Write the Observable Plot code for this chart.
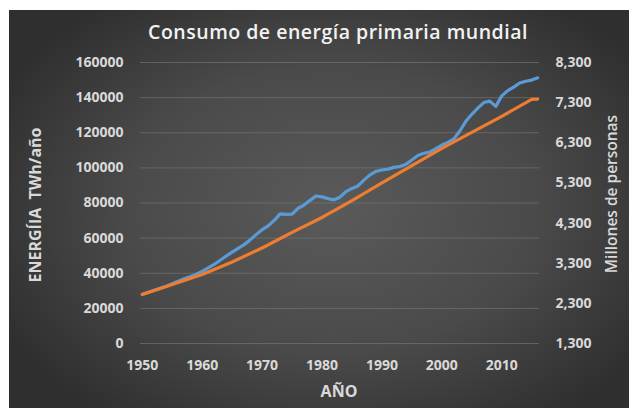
<!DOCTYPE html>
<html><head><meta charset="utf-8">
<script src="https://cdn.jsdelivr.net/npm/d3@7"></script>
<script src="https://cdn.jsdelivr.net/npm/@observablehq/plot@0.6"></script>
<style>
body{margin:0;background:#fff;}
#wrap{position:relative;width:629px;height:408px;overflow:hidden;background:#fff;font-family:"Open Sans",sans-serif;}
#panel{position:absolute;left:9px;top:10px;width:620px;height:398px;
 background:radial-gradient(ellipse 60% 65% at 52% 50%, #5a5a5a 0%, #4a4a4a 55%, #383838 85%, #2f2f2f 100%);}
#title{position:absolute;left:329px;top:8px;transform:translateX(-50%);white-space:nowrap;color:#f2f2f2;font-size:19.5px;font-weight:600;letter-spacing:0.5px;}
.lab{position:absolute;color:#d9d9d9;font-weight:700;white-space:nowrap;}
#ylab{left:26px;top:195px;transform:translate(-50%,-50%) rotate(-90deg);font-size:16px;}
#y2lab{left:602px;top:184px;transform:translate(-50%,-50%) rotate(-90deg);font-size:15.5px;font-weight:600;}
#xlab{left:330px;top:370px;transform:translateX(-50%);font-size:16px;}
svg{position:absolute;left:0;top:0;}
</style></head>
<body><div id="wrap"><div id="panel">
<div id="title">Consumo de energía primaria mundial</div>
<div class="lab" id="ylab">ENERGÍIA&nbsp; TWh/año</div>
<div class="lab" id="y2lab">Millones de personas</div>
<div class="lab" id="xlab">AÑO</div>
</div></div>
<script>
const years = d3.range(1950, 2017);
const energy = [28000,29200,30300,31400,32600,34000,35500,36800,38000,39500,
 41000,43000,45000,47400,49800,52000,54200,56300,59000,62000,
 64800,67000,70000,73800,73500,73600,77000,78800,81500,84000,
 83500,82500,81800,83300,86500,88300,89700,93000,96000,98000,
 98800,99300,100300,100800,102000,104500,107000,108300,109000,111000,
 113000,114500,116500,121000,126500,130500,134000,137200,138000,135000,
 141000,144000,146000,148300,149300,150000,151300];
const popYears = [1950,1955,1960,1965,1970,1975,1980,1985,1990,1995,2000,2005,2010,2015,2016];
const population = [2520,2770,3020,3330,3680,4070,4440,4860,5300,5730,6160,6560,6960,7380,7390];
const leftTicks = [0,20000,40000,60000,80000,100000,120000,140000,160000];
const rightTicks = [1300,2300,3300,4300,5300,6300,7300,8300];
const xTicks = [1950,1960,1970,1980,1990,2000,2010];

const popToY = p => (p - 1300) / 7000 * 160000;
const energyData = years.map((y,i) => ({year:y, v:energy[i]}));
const popData = popYears.map((y,i) => ({year:y, v:popToY(population[i])}));

const chart = Plot.plot({
  width: 620, height: 398,
  marginLeft: 131, marginRight: 90, marginTop: 52, marginBottom: 65,
  style: {background: "transparent", color: "#d9d9d9", fontFamily: "Open Sans, sans-serif", fontSize: "14px", fontWeight: 700},
  x: {domain: [1949.7, 2016.3]},
  y: {domain: [0, 160000]},
  marks: [
    Plot.gridY(leftTicks, {stroke: "#7a7a7a", strokeOpacity: 0.6, strokeWidth: 1}),
    Plot.axisY(leftTicks, {anchor: "left", tickSize: 0, tickPadding: 17, tickFormat: d3.format("d"), label: null, fill: "#d9d9d9"}),
    Plot.axisY(rightTicks.map(popToY), {anchor: "right", tickSize: 0, tickPadding: 16, tickFormat: (d,i) => d3.format(",")(rightTicks[i]), label: null, textAnchor: "start", fill: "#d9d9d9"}),
    Plot.axisX(xTicks, {tickSize: 0, tickPadding: 17, tickFormat: d3.format("d"), label: null, fill: "#d9d9d9"}),
    Plot.line(energyData, {x: "year", y: "v", stroke: "#5B9BD5", strokeWidth: 3.2, strokeLinejoin: "round", strokeLinecap: "round"}),
    Plot.line(popData, {x: "year", y: "v", stroke: "#ED7D31", strokeWidth: 3.2, strokeLinejoin: "round", strokeLinecap: "round"})
  ]
});
document.getElementById("panel").appendChild(chart);
</script>
</body></html>
